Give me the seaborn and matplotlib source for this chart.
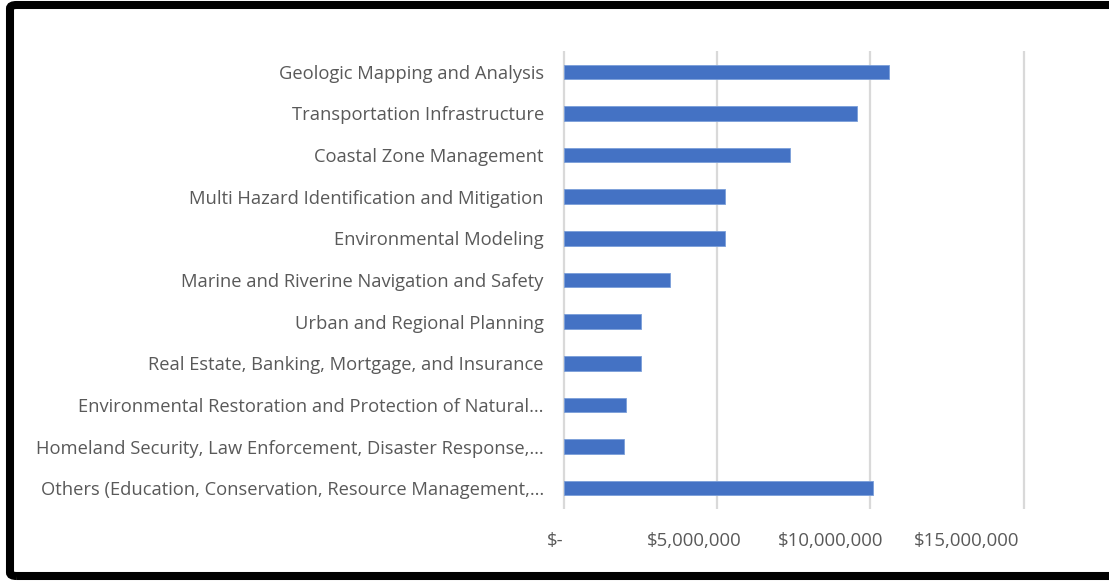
import matplotlib
matplotlib.use("Agg")
import matplotlib.pyplot as plt
import seaborn as sns
import pandas as pd
from matplotlib.patches import FancyBboxPatch
from matplotlib.ticker import FixedLocator

# Data (US dollars)
categories = [
    "Geologic Mapping and Analysis",
    "Transportation Infrastructure",
    "Coastal Zone Management",
    "Multi Hazard Identification and Mitigation",
    "Environmental Modeling",
    "Marine and Riverine Navigation and Safety",
    "Urban and Regional Planning",
    "Real Estate, Banking, Mortgage, and Insurance",
    "Environmental Restoration and Protection of Natural\u2026",
    "Homeland Security, Law Enforcement, Disaster Response,\u2026",
    "Others (Education, Conservation, Resource Management,\u2026",
]
amounts = [10590000, 9570000, 7360000, 5250000, 5250000, 3460000,
           2530000, 2500000, 2030000, 1960000, 10070000]
grid_ticks = [0, 5000000, 10000000, 15000000]
tick_labels = ["$-", "$5,000,000", "$10,000,000", "$15,000,000"]

df = pd.DataFrame({"category": categories, "amount": amounts})

sns.set_style("white")
plt.rcParams["font.family"] = ["Open Sans", "DejaVu Sans"]

fig = plt.figure(figsize=(11.09, 5.81), dpi=100)
# axes starts a little left of zero so the "$-" label still fits
left_px = 555
ax = fig.add_axes([left_px / 1109, 1 - 509 / 581, 1 - left_px / 1109, 458 / 581])

sns.barplot(data=df, x="amount", y="category", color="#4472C4", width=0.35,
            saturation=1, orient="h", ax=ax, edgecolor="#7A9ED9",
            linewidth=0.6, zorder=3)

ax.set_xlim(-290000, 17780000)
ax.set_xlabel("")
ax.set_ylabel("")
for s in ax.spines.values():
    s.set_visible(False)

# gridlines at the real values, labels sit a bit left of them like in the original
ax.xaxis.set_major_locator(FixedLocator(grid_ticks))
ax.set_xticklabels([])
ax.grid(axis="x", color="#D9D9D9", linewidth=1.6, zorder=0)
ax.tick_params(axis="x", which="major", length=0)
label_pos = [-280000, 4260000, 8700000, 13130000]
ax.xaxis.set_minor_locator(FixedLocator(label_pos))
ax.set_xticklabels(tick_labels, minor=True)
ax.tick_params(axis="x", which="minor", length=0, pad=16.5, labelsize=13.4,
               labelcolor="#595959")
ax.tick_params(axis="y", length=0, pad=8, labelsize=13.2, labelcolor="#595959")

# black frame around the chart (cut off on the right)
frame = FancyBboxPatch((10 / 1109, 5 / 581), 1.2, 571 / 581,
                       boxstyle="round,pad=0,rounding_size=0.006",
                       transform=fig.transFigure, fill=False,
                       edgecolor="black", linewidth=5.8, clip_on=False)
fig.patches.append(frame)

fig.savefig("out.png", dpi=100)
